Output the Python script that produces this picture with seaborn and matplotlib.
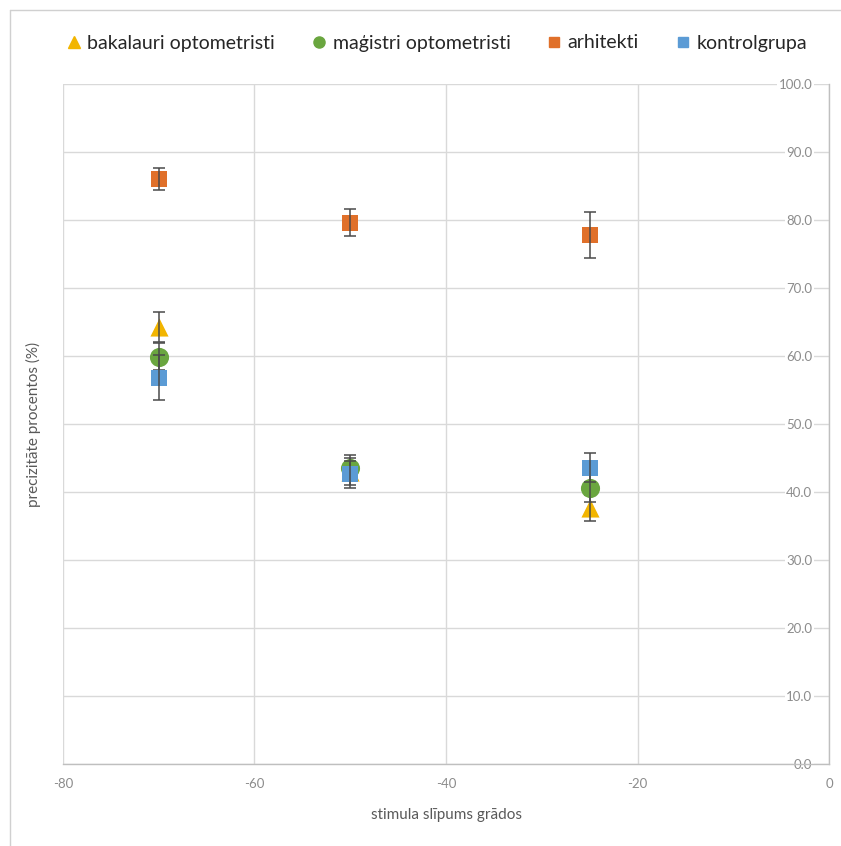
import numpy as np
import pandas as pd
import matplotlib
matplotlib.use("Agg")
import matplotlib.pyplot as plt
from matplotlib.lines import Line2D
import seaborn as sns

# Stimulus tilt angles (degrees)
angles = [-70, -50, -25]

# Accuracy (%) and error per group
groups = ["bakalauri optometristi", "maģistri optometristi", "arhitekti", "kontrolgrupa"]
bakalauri = [64.3, 43.0, 37.6]
bakalauri_err = [2.2, 2.0, 1.9]
magistri = [59.9, 43.6, 40.6]
magistri_err = [2.0, 1.9, 2.0]
arhitekti = [86.0, 79.6, 77.8]
arhitekti_err = [1.6, 2.0, 3.4]
kontrolgrupa = [56.8, 42.6, 43.6]
kontrolgrupa_err = [3.3, 2.0, 2.1]

x_ticks = [-80, -60, -40, -20, 0]
y_ticks = [0, 10, 20, 30, 40, 50, 60, 70, 80, 90, 100]

colors = {
    "bakalauri optometristi": "#F2B500",
    "maģistri optometristi": "#6AA63F",
    "arhitekti": "#E0702A",
    "kontrolgrupa": "#5B9BD5",
}
markers = {
    "bakalauri optometristi": "^",
    "maģistri optometristi": "o",
    "arhitekti": "s",
    "kontrolgrupa": "s",
}
sizes = {
    "bakalauri optometristi": 170,
    "maģistri optometristi": 190,
    "arhitekti": 125,
    "kontrolgrupa": 125,
}

values = [bakalauri, magistri, arhitekti, kontrolgrupa]
errors = [bakalauri_err, magistri_err, arhitekti_err, kontrolgrupa_err]

rows = []
for g, v, e in zip(groups, values, errors):
    for a, val, err in zip(angles, v, e):
        rows.append({"angle": a, "value": val, "err": err, "group": g})
df = pd.DataFrame(rows)

sns.set_theme(style="white")
plt.rcParams["font.family"] = ["Lato", "DejaVu Sans"]
plt.rcParams["axes.unicode_minus"] = False

W, H = 841, 846
fig = plt.figure(figsize=(W / 100, H / 100), dpi=100)
ax = fig.add_axes([63 / W, 1 - 764 / H, (829 - 63) / W, (764 - 84) / H])

# One layer per group so later groups sit on top of earlier ones
for i, g in enumerate(groups):
    sub = df[df["group"] == g]
    sns.scatterplot(data=sub, x="angle", y="value", marker=markers[g],
                    color=colors[g], s=sizes[g], linewidth=0,
                    ax=ax, legend=False, zorder=3 + i)
    ax.errorbar(sub["angle"], sub["value"], yerr=sub["err"], fmt="none",
                ecolor="#4a4a4a", elinewidth=1.1, capsize=4, capthick=1.1,
                zorder=3.5 + i)

ax.set_xlim(-80, 0)
ax.set_ylim(0, 100)
ax.set_xticks(x_ticks)
ax.set_xticklabels([str(t) for t in x_ticks])
ax.set_yticks(y_ticks)
ax.set_yticklabels([f"{t:.1f}" for t in y_ticks])
ax.set_xlabel("")
ax.set_ylabel("")

ax.grid(True, color="#D9D9D9", linewidth=1)
ax.set_axisbelow(True)
for side in ["left", "top"]:
    ax.spines[side].set_visible(False)
for side in ["right", "bottom"]:
    ax.spines[side].set_color("#BFBFBF")
    ax.spines[side].set_linewidth(1)

# Value axis crosses at x = 0, with its labels inside the plot
ax.yaxis.tick_right()
ax.tick_params(axis="y", length=0, pad=-12, labelsize=9.5, labelcolor="#8c8c8c")
for lbl in ax.get_yticklabels():
    lbl.set_ha("right")
    lbl.set_bbox(dict(facecolor="white", edgecolor="none", pad=1.0))
ax.tick_params(axis="x", length=0, pad=10, labelsize=9.5, labelcolor="#8c8c8c")

fig.text(446 / W, 1 - 815 / H, "stimula slīpums grādos", ha="center", va="center",
         fontsize=11, color="#595959")
fig.text(33 / W, 1 - 424 / H, "precizitāte procentos (%)", ha="center", va="center",
         rotation=90, fontsize=11, color="#595959")

handles = [Line2D([0], [0], marker=markers[g], color=colors[g], linestyle="none",
                  markersize=8 if markers[g] != "s" else 7) for g in groups]
fig.legend(handles, groups, loc="center", bbox_to_anchor=(437 / W, 1 - 43 / H),
           ncol=4, frameon=False, fontsize=14, handlelength=0.7,
           handletextpad=0.35, columnspacing=1.9, labelcolor="#262626")

# Chart area frame
fig.add_artist(Line2D([10 / W, 10 / W], [0, 1 - 10 / H], transform=fig.transFigure,
                      color="#D0D0D0", linewidth=1))
fig.add_artist(Line2D([10 / W, 1], [1 - 10 / H, 1 - 10 / H], transform=fig.transFigure,
                      color="#D0D0D0", linewidth=1))

fig.savefig("out.png", dpi=100)
